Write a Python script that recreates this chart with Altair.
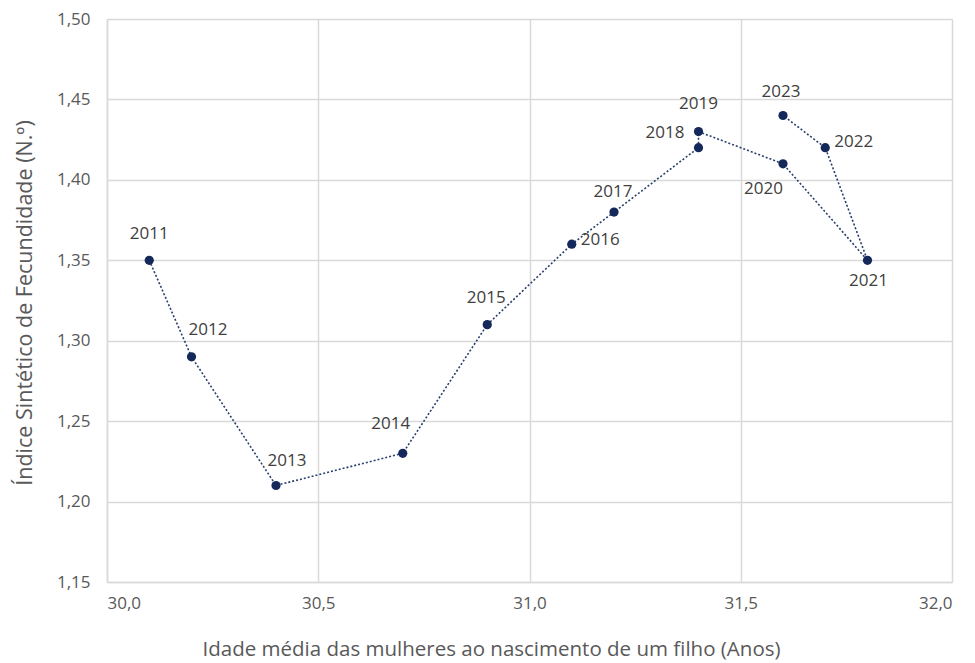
import altair as alt
import pandas as pd

years = ["2011", "2012", "2013", "2014", "2015", "2016", "2017",
         "2018", "2019", "2020", "2021", "2022", "2023"]
idade_media = [30.1, 30.2, 30.4, 30.7, 30.9, 31.1, 31.2,
               31.4, 31.4, 31.6, 31.8, 31.7, 31.6]
isf = [1.35, 1.29, 1.21, 1.23, 1.31, 1.36, 1.38,
       1.42, 1.43, 1.41, 1.35, 1.42, 1.44]

x_ticks = [30.0, 30.5, 31.0, 31.5, 32.0]
y_ticks = [1.15, 1.20, 1.25, 1.30, 1.35, 1.40, 1.45, 1.50]

df = pd.DataFrame({"ano": years, "idade": idade_media, "isf": isf,
                   "ordem": list(range(len(years)))})

FONT = "Open Sans"
NAVY = "#14295a"
GRID = "#d9d9d9"

W, H = 845, 563

x_enc = alt.X("idade:Q",
              scale=alt.Scale(domain=[30.0, 32.0], nice=False, zero=False),
              axis=alt.Axis(values=x_ticks,
                            labelExpr="replace(format(datum.value, '.1f'), '.', ',')",
                            title="Idade média das mulheres ao nascimento de um filho (Anos)",
                            titleX=384, titleY=73, titleBaseline="alphabetic",
                            labelPadding=13))
y_enc = alt.Y("isf:Q",
              scale=alt.Scale(domain=[1.15, 1.50], nice=False, zero=False),
              axis=alt.Axis(values=y_ticks,
                            labelExpr="replace(format(datum.value, '.2f'), '.', ',')",
                            title="Índice Sintético de Fecundidade (N.º)",
                            titleX=-82, titleY=H / 2 + 2, titleAngle=-90,
                            titleFontSize=21.5,
                            titleBaseline="middle", labelPadding=17))

base = alt.Chart(df)

line = base.mark_line(color="#2a3f6e", strokeDash=[2, 2], strokeWidth=1.6).encode(
    x=x_enc, y=y_enc, order="ordem:Q")

points = base.mark_circle(color=NAVY, opacity=1, size=85).encode(
    x="idade:Q", y="isf:Q")

# label placement (align, dx, dy) per year
label_place = {
    "2011": ("center", 0, -26),
    "2012": ("left", -3, -27),
    "2013": ("center", 11, -24),
    "2014": ("center", -12, -29),
    "2015": ("center", -1, -27),
    "2016": ("left", 9, -4),
    "2017": ("center", -1, -20),
    "2018": ("right", -14, -15),
    "2019": ("center", 0, -28),
    "2020": ("right", 0, 25),
    "2021": ("center", 1, 21),
    "2022": ("left", 9, -6),
    "2023": ("center", -2, -24),
}

labels = []
for yr, (al, dx, dy) in label_place.items():
    labels.append(
        base.transform_filter(alt.datum.ano == yr).mark_text(
            align=al, baseline="middle", dx=dx, dy=dy,
            font=FONT, fontSize=17, color="#404040"
        ).encode(x="idade:Q", y="isf:Q", text="ano:N")
    )

chart = alt.layer(line, points, *labels).properties(
    width=W, height=H,
    autosize=alt.AutoSizeParams(type="none"),
    padding={"left": 99, "top": 11, "right": 10, "bottom": 80},
).configure_view(stroke=None).configure_axis(
    grid=True, gridColor=GRID, gridWidth=1.5,
    domainColor=GRID, domainWidth=1.5, ticks=False,
    labelFont=FONT, labelFontSize=17, labelColor="#595959",
    titleFont=FONT, titleFontSize=20.5, titleColor="#595959", titleFontWeight="normal",
)

chart.save("out.html", embed_options={"renderer": "svg", "actions": False})
